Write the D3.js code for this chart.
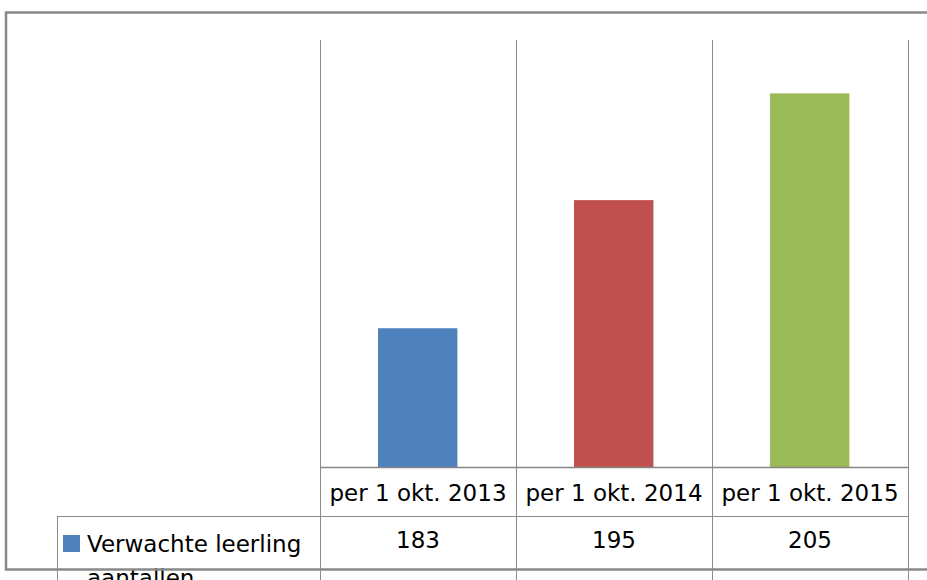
<!DOCTYPE html>
<html lang="nl">
<head>
    <meta charset="UTF-8">
    <title>Verwachte leerling aantallen</title>
    <script src="https://cdn.jsdelivr.net/npm/d3@7/dist/d3.min.js"></script>
</head>
<body>
<style>
    body {
        margin: 0;
        background-color: white;
    }
    svg {
        display: block;
        width: 927px;
        height: 580px;
    }
    svg text {
        font-family: "DejaVu Sans", sans-serif;
        font-size: 23px;
        fill: black;
    }
    .grid line {
        stroke: #8c8c8c;
        stroke-width: 1;
        shape-rendering: crispEdges;
    }
</style>

<svg></svg>

<script>
    // gegevens
    var categories = ["per 1 okt. 2013", "per 1 okt. 2014", "per 1 okt. 2015"];
    var values = [183, 195, 205];
    var colors = ["#4f81bd", "#c0504d", "#9bbb59"];
    var seriesName = ["Verwachte leerling", "aantallen"];

    var svg = d3.select("svg");

    var getX = d3.scaleBand()
            .domain(categories)
            .range([320, 908])
            .paddingInner(0)
            .paddingOuter(0);
    var getY = d3.scaleLinear()
            .domain([170, 210])
            .range([467, 40]);

    var bw = getX.bandwidth();
    var baseY = getY(170);
    var rowH = 49;          // hoogte rij categorieën
    var tableLeft = 57;

    var grid = svg.append("g").attr("class", "grid");

    // verticale lijnen plotgebied + tabel
    var edges = categories.map(function (c) { return getX(c); }).concat([getX.range()[1]]);
    grid.selectAll(".vline")
            .data(edges)
            .enter()
            .append("line")
            .attr("x1", function (d) { return Math.round(d) + 0.5; })
            .attr("x2", function (d) { return Math.round(d) + 0.5; })
            .attr("y1", getY.range()[1])
            .attr("y2", 580);

    // lijn onder categorieën
    grid.append("line")
            .attr("x1", tableLeft + 0.5)
            .attr("x2", getX.range()[1] + 0.5)
            .attr("y1", baseY + rowH + 0.5)
            .attr("y2", baseY + rowH + 0.5);
    grid.append("line")
            .attr("x1", tableLeft + 0.5)
            .attr("x2", tableLeft + 0.5)
            .attr("y1", baseY + rowH)
            .attr("y2", 580);

    // staven
    svg.selectAll(".bar")
            .data(values)
            .enter()
            .append("rect")
            .attr("class", "bar")
            .attr("x", function (d, i) { return getX(categories[i]) + bw * 0.296; })
            .attr("width", bw * 0.405)
            .attr("y", function (d) { return getY(d); })
            .attr("height", function (d) { return baseY - getY(d); })
            .attr("fill", function (d, i) { return colors[i]; });

    // x-as
    svg.append("line")
            .attr("x1", getX.range()[0])
            .attr("x2", getX.range()[1] + 1)
            .attr("y1", baseY + 0.5)
            .attr("y2", baseY + 0.5)
            .attr("stroke", "#868686")
            .attr("stroke-width", 1.5);

    // categorielabels
    svg.selectAll(".catText")
            .data(categories)
            .enter()
            .append("text")
            .attr("class", "catText")
            .attr("text-anchor", "middle")
            .attr("x", function (d) { return getX(d) + bw / 2; })
            .attr("y", baseY + 33.5)
            .text(function (d) { return d; });

    // waarden
    svg.selectAll(".valText")
            .data(values)
            .enter()
            .append("text")
            .attr("class", "valText")
            .attr("text-anchor", "middle")
            .attr("x", function (d, i) { return getX(categories[i]) + bw / 2; })
            .attr("y", baseY + rowH + 31.5)
            .text(function (d) { return d; });

    // legenda-sleutel
    svg.append("rect")
            .attr("x", 63)
            .attr("y", 535)
            .attr("width", 17)
            .attr("height", 17)
            .attr("fill", colors[0]);
    svg.selectAll(".legText")
            .data(seriesName)
            .enter()
            .append("text")
            .attr("class", "legText")
            .attr("x", 87)
            .attr("y", function (d, i) { return 552 + i * 34; })
            .text(function (d) { return d; });

    // kader om de grafiek
    svg.append("rect")
            .attr("x", 6)
            .attr("y", 12.5)
            .attr("width", 940)
            .attr("height", 557)
            .attr("fill", "none")
            .attr("stroke", "#898989")
            .attr("stroke-width", 2.5);
</script>
</body>
</html>
